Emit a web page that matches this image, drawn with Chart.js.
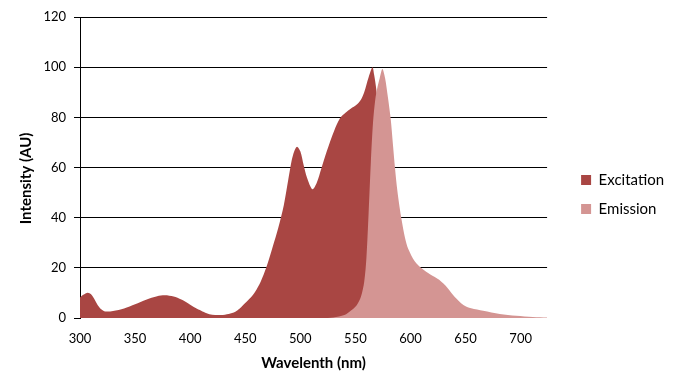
<!DOCTYPE html>
<html>
<head>
<meta charset="utf-8">
<script src="https://cdn.jsdelivr.net/npm/chart.js@4.4.1/dist/chart.umd.min.js"></script>
<style>
  html, body { margin: 0; padding: 0; background: #fff; }
  #chart { display: block; }
</style>
</head>
<body>
<canvas id="chart" width="674" height="391"></canvas>
<script>
// Excitation spectrum (wavelength nm -> intensity AU)
const excWavelengths = [300, 303, 307, 310, 313, 316, 319, 323, 330, 340, 350, 360, 370, 377, 385, 392, 398, 405, 410, 415, 420, 428, 435, 441, 445, 450, 455, 459, 464, 469, 475, 480, 485, 489, 492, 494.5, 497, 500, 503, 506, 511, 515, 519, 524, 531, 536, 541, 546, 551, 555, 558, 562, 565.5, 567, 569, 571, 573, 576, 580, 586, 600, 724];
const excValues = [8.2, 9.3, 10.1, 9.5, 7.6, 5.2, 3.6, 2.6, 2.8, 3.8, 5.5, 7.3, 8.7, 9.1, 8.6, 7.4, 5.9, 4.0, 2.9, 1.9, 1.3, 1.2, 1.6, 2.5, 3.8, 6.0, 8.2, 10.5, 14.5, 20, 28.5, 36, 45, 55, 62.5, 66.5, 68.3, 66.5, 61, 56, 51.3, 54, 59.5, 66.5, 75, 79.6, 81.8, 83.5, 85, 87, 90, 96, 100, 97, 91, 80, 55, 20, 3, 0, 0, 0];

// Emission spectrum
const emWavelengths = [300, 520, 530, 540, 546, 551, 555, 558, 560, 562, 564, 566, 568, 570, 572, 574.5, 577, 579.5, 582, 584, 586, 588, 590, 592, 595, 598, 604, 610, 618, 626, 634, 640, 648, 655, 666, 681, 696, 711, 724];
const emValues = [0, 0, 0.2, 1.2, 3, 5, 8.5, 14.5, 24, 42, 62, 78, 87, 92, 95.5, 99.3, 95.5, 88, 79.5, 69.5, 59.5, 51, 44.5, 39, 32, 27.5, 22.5, 19.8, 17.3, 15.2, 11.8, 8.5, 5.2, 3.9, 2.9, 1.6, 0.9, 0.4, 0.2];

const seriesNames = ["Excitation", "Emission"];
const seriesColors = ["#A94643", "#D49593"];
const xTicks = [300, 350, 400, 450, 500, 550, 600, 650, 700];
const yTicks = [0, 20, 40, 60, 80, 100, 120];

const FONT = "Lato";
const legendFont = { family: FONT, size: 15 };
const titleFont = { family: FONT, size: 15, weight: "bold" };

// legend sits at a fixed spot right of the plot: work out the right padding from the label width
const canvas = document.getElementById("chart");
const mctx = canvas.getContext("2d");
mctx.font = `${legendFont.size}px ${FONT}`;
const textW = Math.max(...seriesNames.map(s => mctx.measureText(s).width));
const legendPad = 14, boxW = 10;
const legendW = legendPad + boxW + legendFont.size / 2 + textW + 10;
const padRight = Math.max(0, 674 - 568 - legendW);

const toPoints = (xs, ys) => xs.map((x, i) => ({ x, y: ys[i] }));

new Chart(canvas, {
  type: "line",
  data: {
    datasets: [
      {
        label: seriesNames[0],
        data: toPoints(excWavelengths, excValues),
        backgroundColor: seriesColors[0],
        borderColor: "rgba(0,0,0,0)",
        fill: "origin",
        order: 1
      },
      {
        label: seriesNames[1],
        data: toPoints(emWavelengths, emValues),
        backgroundColor: seriesColors[1],
        borderColor: "rgba(0,0,0,0)",
        fill: "origin",
        order: 0
      }
    ]
  },
  options: {
    responsive: false,
    animation: false,
    events: [],
    layout: { padding: { left: 0, top: 17, right: padRight, bottom: 19 } },
    elements: {
      point: { radius: 0 },
      line: { borderWidth: 1, tension: 0.3 }
    },
    scales: {
      x: {
        type: "linear",
        min: 300,
        max: 724,
        afterBuildTicks: s => { s.ticks = xTicks.map(v => ({ value: v })); },
        afterFit: s => { s.height = 54; },
        grid: { display: false, drawTicks: false },
        border: { display: false },
        ticks: { padding: 13, color: "#000", font: { family: FONT, size: 13 } },
        title: {
          display: true,
          text: "Wavelenth (nm)",
          color: "#000",
          font: titleFont,
          padding: { top: 0, bottom: 0 }
        }
      },
      y: {
        min: 0,
        max: 120,
        afterBuildTicks: s => { s.ticks = yTicks.map(v => ({ value: v })); },
        afterFit: s => { s.width = 80; },
        grid: {
          color: c => (c.tick && c.tick.value === 0 ? "rgba(0,0,0,0)" : "#000"),
          tickColor: "#000",
          tickLength: 6,
          lineWidth: 1
        },
        border: { display: true, color: "#000", width: 1 },
        ticks: { padding: 8, color: "#000", font: { family: FONT, size: 13 } },
        title: {
          display: true,
          text: "Intensity (AU)      ",
          color: "#000",
          font: titleFont,
          padding: { top: 17, bottom: 0 }
        }
      },
      // empty spacer between plot and legend
      gap: {
        type: "linear",
        position: "right",
        display: true,
        afterFit: s => { s.width = 20; },
        grid: { display: false, drawTicks: false },
        border: { display: false },
        ticks: { display: false }
      }
    },
    plugins: {
      tooltip: { enabled: false },
      legend: {
        position: "right",
        labels: {
          boxWidth: boxW,
          boxHeight: 10,
          padding: legendPad,
          color: "#000",
          font: legendFont,
          sort: (a, b) => a.datasetIndex - b.datasetIndex
        }
      }
    }
  }
});
</script>
</body>
</html>
